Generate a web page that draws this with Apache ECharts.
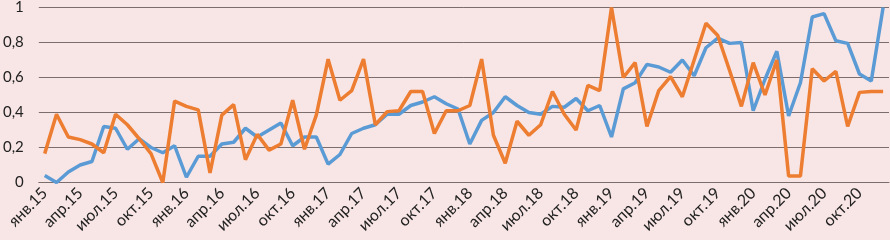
<!DOCTYPE html>
<html><head><meta charset="utf-8">
<script src="https://cdn.jsdelivr.net/npm/echarts@6/dist/echarts.min.js"></script>
<style>html,body{margin:0;padding:0;background:#F8E5E5;}#c{width:890px;height:240px;}</style>
</head><body><div id="c"></div>
<script>
const categories = [
'янв.15','фев.15','мар.15','апр.15','май.15','июн.15','июл.15','авг.15','сен.15','окт.15','ноя.15','дек.15',
'янв.16','фев.16','мар.16','апр.16','май.16','июн.16','июл.16','авг.16','сен.16','окт.16','ноя.16','дек.16',
'янв.17','фев.17','мар.17','апр.17','май.17','июн.17','июл.17','авг.17','сен.17','окт.17','ноя.17','дек.17',
'янв.18','фев.18','мар.18','апр.18','май.18','июн.18','июл.18','авг.18','сен.18','окт.18','ноя.18','дек.18',
'янв.19','фев.19','мар.19','апр.19','май.19','июн.19','июл.19','авг.19','сен.19','окт.19','ноя.19','дек.19',
'янв.20','фев.20','мар.20','апр.20','май.20','июн.20','июл.20','авг.20','сен.20','окт.20','ноя.20','дек.20'];
const blueValues = [
0.04,0.00,0.06,0.10,0.12,0.32,0.31,0.19,0.25,0.20,0.17,0.21,
0.03,0.15,0.15,0.22,0.23,0.31,0.26,0.30,0.34,0.21,0.26,0.26,
0.105,0.16,0.28,0.31,0.33,0.39,0.39,0.44,0.46,0.49,0.45,0.42,
0.22,0.355,0.40,0.49,0.44,0.40,0.39,0.435,0.43,0.48,0.41,0.44,
0.26,0.535,0.57,0.675,0.66,0.63,0.70,0.61,0.77,0.825,0.795,0.80,
0.41,0.59,0.75,0.38,0.57,0.946,0.965,0.81,0.795,0.62,0.58,1.0];
const orangeValues = [
0.165,0.39,0.26,0.245,0.22,0.17,0.39,0.33,0.25,0.165,0.0,0.465,
0.435,0.415,0.055,0.385,0.445,0.13,0.275,0.185,0.22,0.47,0.19,0.385,
0.705,0.47,0.525,0.705,0.33,0.405,0.41,0.52,0.52,0.28,0.41,0.41,
0.44,0.705,0.27,0.11,0.35,0.27,0.33,0.52,0.39,0.30,0.555,0.525,
1.0,0.60,0.685,0.32,0.525,0.605,0.49,0.70,0.91,0.84,0.64,0.435,
0.685,0.50,0.70,0.037,0.037,0.65,0.58,0.635,0.32,0.515,0.52,0.52];
const yTicks = [0,0.2,0.4,0.6,0.8,1];

const chart = echarts.init(document.getElementById('c'), null, {renderer:'canvas'});
const font = 'Lato, "Open Sans", sans-serif';
chart.setOption({
  backgroundColor:'#F8E5E5',
  animation:false,
  grid:{left:35,right:1,top:6,bottom:57.5,containLabel:false},
  xAxis:{type:'category',data:categories,boundaryGap:true,
    axisLine:{show:true,lineStyle:{color:'#7d6e6e',width:1}},
    axisTick:{show:false},
    axisLabel:{interval:2,rotate:45,margin:8,color:'#222',fontSize:16,fontFamily:font}},
  yAxis:{type:'value',min:0,max:1,interval:0.2,
    axisLine:{show:false},axisTick:{show:false},
    splitLine:{lineStyle:{color:'#7d6e6e',width:1}},
    axisLabel:{margin:15,color:'#222',fontSize:15,fontFamily:font,
      formatter:v=>{const t=yTicks.find(x=>Math.abs(x-v)<1e-9);return String(t===undefined?v:t).replace('.',',');}}},
  series:[
    {type:'line',data:blueValues,symbol:'none',lineStyle:{color:'#5B9BD5',width:3.5},itemStyle:{color:'#5B9BD5'}},
    {type:'line',data:orangeValues,symbol:'none',lineStyle:{color:'#ED7D31',width:3.5},itemStyle:{color:'#ED7D31'}}
  ]
});
</script></body></html>
